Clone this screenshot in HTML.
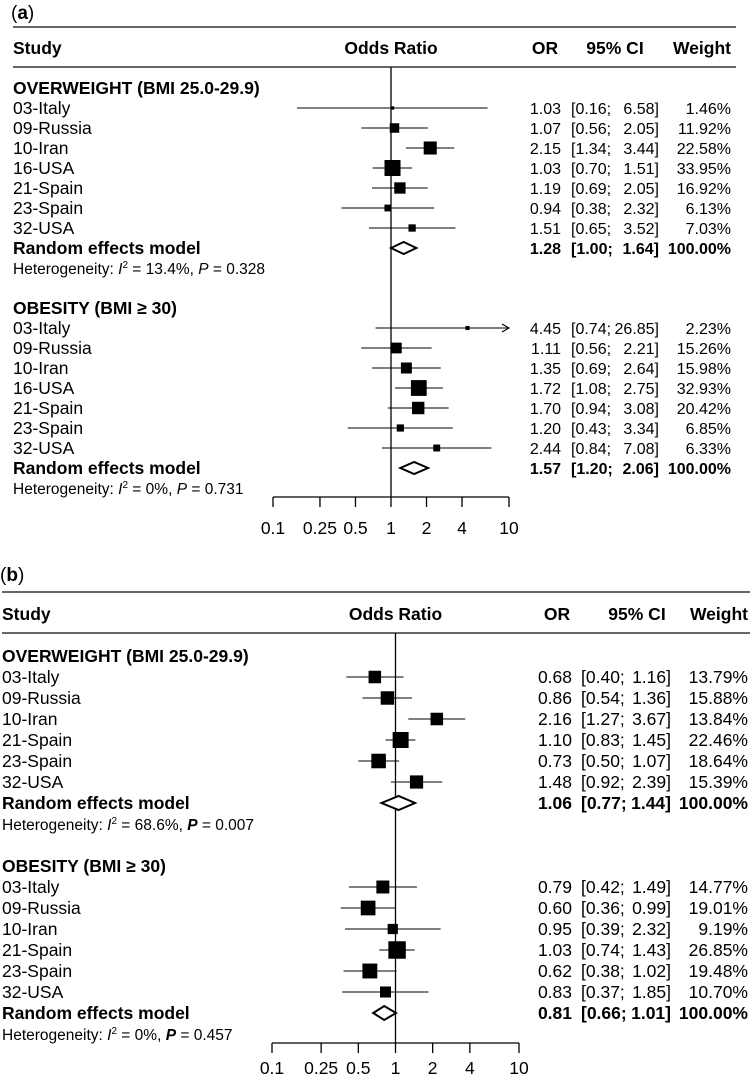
<!DOCTYPE html>
<html><head><meta charset="utf-8"><style>
html,body{margin:0;padding:0;background:#fff;}
svg{display:block;font-family:"Liberation Sans",Arial,sans-serif;}
</style></head><body>
<svg id="chart" width="752" height="1082" viewBox="0 0 752 1082" xmlns="http://www.w3.org/2000/svg"></svg>
<script>
// ---------- Panel A data ----------
const aOwStudies = ["03-Italy","09-Russia","10-Iran","16-USA","21-Spain","23-Spain","32-USA"];
const aOwOR = [1.03,1.07,2.15,1.03,1.19,0.94,1.51];
const aOwLo = [0.16,0.56,1.34,0.70,0.69,0.38,0.65];
const aOwHi = [6.58,2.05,3.44,1.51,2.05,2.32,3.52];
const aOwW = [1.46,11.92,22.58,33.95,16.92,6.13,7.03];
const aOwPooled = [1.28,1.00,1.64];
const aObStudies = ["03-Italy","09-Russia","10-Iran","16-USA","21-Spain","23-Spain","32-USA"];
const aObOR = [4.45,1.11,1.35,1.72,1.70,1.20,2.44];
const aObLo = [0.74,0.56,0.69,1.08,0.94,0.43,0.84];
const aObHi = [26.85,2.21,2.64,2.75,3.08,3.34,7.08];
const aObW = [2.23,15.26,15.98,32.93,20.42,6.85,6.33];
const aObPooled = [1.57,1.20,2.06];
// ---------- Panel B data ----------
const bOwStudies = ["03-Italy","09-Russia","10-Iran","21-Spain","23-Spain","32-USA"];
const bOwOR = [0.68,0.86,2.16,1.10,0.73,1.48];
const bOwLo = [0.40,0.54,1.27,0.83,0.50,0.92];
const bOwHi = [1.16,1.36,3.67,1.45,1.07,2.39];
const bOwW = [13.79,15.88,13.84,22.46,18.64,15.39];
const bOwPooled = [1.06,0.77,1.44];
const bObStudies = ["03-Italy","09-Russia","10-Iran","21-Spain","23-Spain","32-USA"];
const bObOR = [0.79,0.60,0.95,1.03,0.62,0.83];
const bObLo = [0.42,0.36,0.39,0.74,0.38,0.37];
const bObHi = [1.49,0.99,2.32,1.43,1.02,1.85];
const bObW = [14.77,19.01,9.19,26.85,19.48,10.70];
const bObPooled = [0.81,0.66,1.01];
const tickVals = [0.1,0.25,0.5,1,2,4,10];
const tickLabels = ["0.1","0.25","0.5","1","2","4","10"];

const NS="http://www.w3.org/2000/svg";
const svg=document.getElementById('chart');
function mk(tag,attrs,parent){const e=document.createElementNS(NS,tag);for(const k in attrs)e.setAttribute(k,attrs[k]);(parent||svg).appendChild(e);return e;}
function txt(s,x,y,opt,parent){opt=opt||{};const t=mk('text',{x:x,y:y+6,'font-size':opt.size||17.5,'text-anchor':opt.anchor||'start','font-weight':opt.bold?'bold':'normal',fill:'#000'},parent);t.textContent=s;return t;}
function f2(v){return v.toFixed(2);}

function panel(P){
  const g=mk('g',{});
  
  
  const xs=v=>P.x1+Math.log10(v)*P.dec;
  const VS=P.vs;
  const lab=txt('',P.left-2,P.labelY,{size:19},g);
  
  
  lab.innerHTML='(<tspan font-weight="bold">'+P.letter+'</tspan>)';
  mk('line',{x1:P.left,x2:P.right,y1:P.line1,y2:P.line1,stroke:'#333','stroke-width':1.5},g);
  mk('line',{x1:P.left,x2:P.right,y1:P.line2,y2:P.line2,stroke:'#333','stroke-width':1.5},g);
  const hdr=[['Study',P.left,'start'],['Odds Ratio',xs(1),'middle'],['OR',P.orHdr,'middle'],['95% CI',P.ciHdr,'middle'],['Weight',P.wR,'end']];
  hdr.forEach(h=>{const t=txt(h[0],h[1],P.hdrY,{bold:true,anchor:h[2]},g);});
  const ref=mk('line',{x1:xs(1),x2:xs(1),y1:P.line2,y2:P.axisY,stroke:'#000','stroke-width':1.3},g);
  
  
  P.groups.forEach(G=>{
    let y=G.y0;
    const gh=txt(G.title,P.left,y,{bold:true},g);
    
    
    G.studies.forEach((s,i)=>{
      y+=P.step;
      txt(s,P.left,y,{},g);
      const hi=Math.min(G.hi[i],10);
      const ci=mk('line',{x1:xs(G.lo[i]),x2:xs(hi),y1:y,y2:y,stroke:'#000','stroke-width':1.1},g);
      
      
      if(G.hi[i]>10){const ax=xs(10);mk('path',{d:`M${ax-7},${y-4} L${ax},${y} L${ax-7},${y+4}`,fill:'none',stroke:'#000','stroke-width':1.1},g);}
      const sz=Math.sqrt(G.w[i])*P.boxK;
      const b=mk('rect',{x:xs(G.or[i])-sz/2,y:y-sz/2,width:sz,height:sz,fill:'#000'},g);
      
      
      txt(f2(G.or[i]),P.orR,y,{size:VS,anchor:'end'},g);
      txt('['+f2(G.lo[i])+';',P.ciL,y,{size:VS},g);
      txt(f2(G.hi[i])+']',P.ciR,y,{size:VS,anchor:'end'},g);
      txt(f2(G.w[i])+'%',P.wR,y,{size:VS,anchor:'end'},g);
    });
    y+=P.step;
    txt('Random effects model',P.left,y,{bold:true},g);
    const pe=G.pooled;
    const d=mk('path',{d:`M${xs(pe[1])},${y} L${xs(pe[0])},${y-P.dh} L${xs(pe[2])},${y} L${xs(pe[0])},${y+P.dh} Z`,fill:'#fff',stroke:'#000','stroke-width':2},g);
    
    
    txt(f2(pe[0]),P.orR,y,{size:VS,anchor:'end',bold:true},g);
    txt('['+f2(pe[1])+';',P.ciL,y,{size:VS,bold:true},g);
    txt(f2(pe[2])+']',P.ciR,y,{size:VS,anchor:'end',bold:true},g);
    txt('100.00%',P.wR,y,{size:VS,anchor:'end',bold:true},g);
    y+=P.step;
    const h=txt('',P.left,y,{size:15.5},g);
    
    
    h.innerHTML='Heterogeneity: <tspan font-style="italic">I</tspan><tspan dy="-6" font-size="10">2</tspan><tspan dy="6"> = '+G.i2+', </tspan><tspan font-style="italic" font-weight="'+(G.pbold?'bold':'normal')+'">P</tspan> = '+G.p;
  });
  const ax=mk('line',{x1:xs(0.1),x2:xs(10),y1:P.axisY,y2:P.axisY,stroke:'#000','stroke-width':1.3},g);
  
  
  tickVals.forEach((v,i)=>{
    mk('line',{x1:xs(v),x2:xs(v),y1:P.axisY,y2:P.axisY+10,stroke:'#000','stroke-width':1.3},g);
    const t=txt(tickLabels[i],xs(v),P.tickY,{anchor:'middle'},g);
    
    
  });
}

panel({name:'panel-a',letter:'a',left:13,right:736,labelY:13,line1:27,hdrY:48,line2:67,x1:391,dec:118,step:20,vs:16,
  boxK:2.75,dh:6,orR:561,ciL:571,ciR:659,wR:731,orHdr:545,ciHdr:615,axisY:497,tickY:528,
  groups:[
    {title:'OVERWEIGHT (BMI 25.0-29.9)',y0:88,studies:aOwStudies,or:aOwOR,lo:aOwLo,hi:aOwHi,w:aOwW,pooled:aOwPooled,i2:'13.4%',p:'0.328'},
    {title:'OBESITY (BMI ≥ 30)',y0:308,studies:aObStudies,or:aObOR,lo:aObLo,hi:aObHi,w:aObW,pooled:aObPooled,i2:'0%',p:'0.731'}
  ]});
panel({name:'panel-b',letter:'b',left:2,right:750,labelY:575,line1:592,hdrY:614,line2:633,x1:395.5,dec:123.5,step:21,vs:17.5,
  boxK:3.37,dh:7,orR:572,ciL:581,ciR:671,wR:748,orHdr:557,ciHdr:637,axisY:1043,tickY:1068,
  groups:[
    {title:'OVERWEIGHT (BMI 25.0-29.9)',y0:656,studies:bOwStudies,or:bOwOR,lo:bOwLo,hi:bOwHi,w:bOwW,pooled:bOwPooled,i2:'68.6%',p:'0.007',pbold:true},
    {title:'OBESITY (BMI ≥ 30)',y0:866,studies:bObStudies,or:bObOR,lo:bObLo,hi:bObHi,w:bObW,pooled:bObPooled,i2:'0%',p:'0.457',pbold:true}
  ]});
</script>
</body></html>
